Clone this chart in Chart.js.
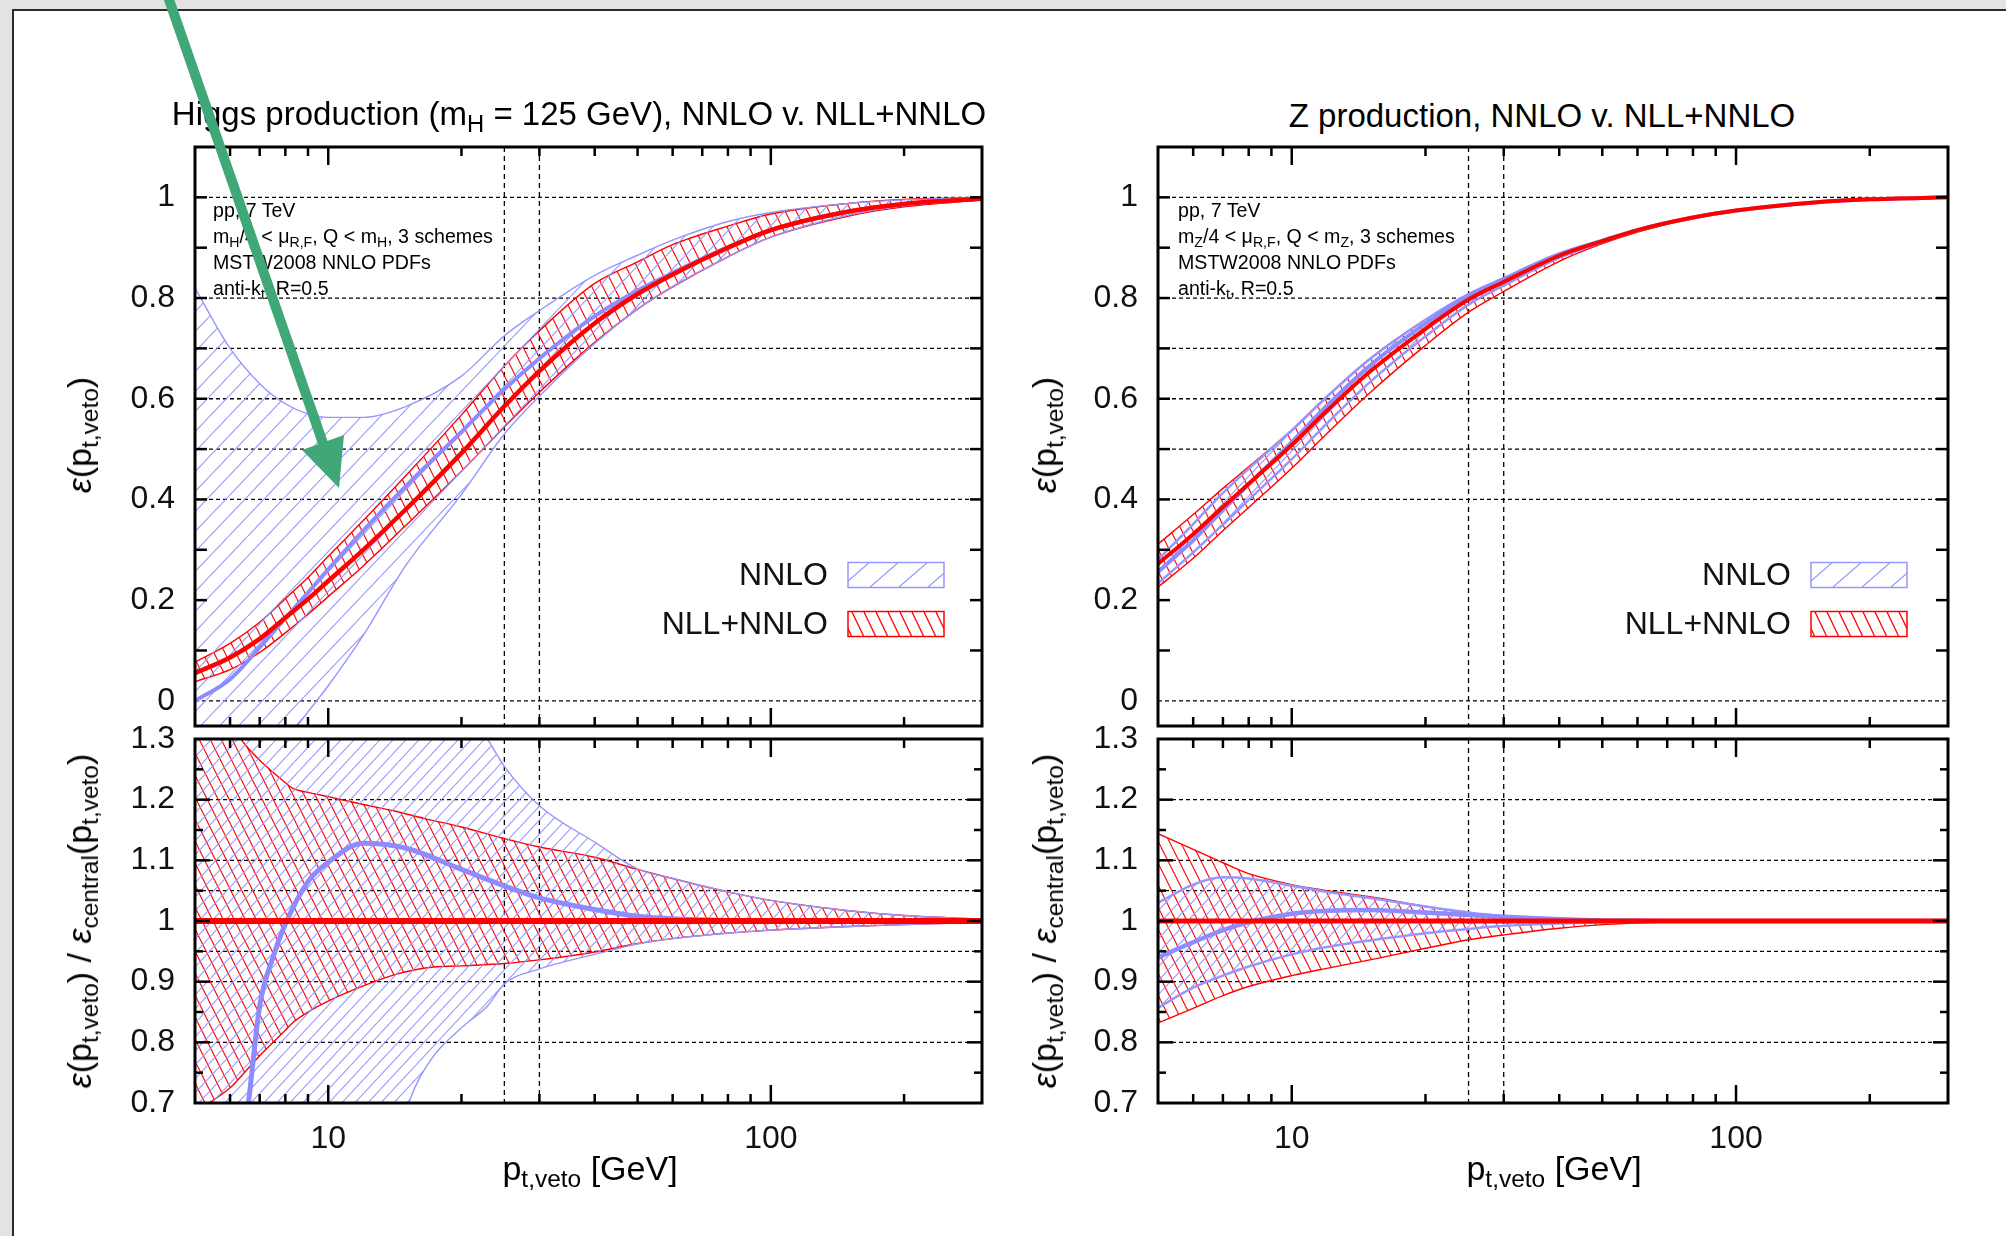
<!DOCTYPE html>
<html>
<head>
<meta charset="utf-8">
<script src="https://cdn.jsdelivr.net/npm/chart.js@4.4.1/dist/chart.umd.min.js"></script>
<style>
  body { margin: 0; width: 2006px; height: 1236px; overflow: hidden; background: #e3e3e3;
         font-family: "Liberation Sans", Arial, sans-serif; color: #000; }
  #page { position: absolute; left: 12px; top: 9px; width: 2100px; height: 1300px;
          background: #fff; border: 2px solid #2b2b2b; }
  canvas { position: absolute; }
  .t { position: absolute; white-space: nowrap; line-height: 1; transform: translate(-50%, -50%); }
  .title { font-size: 33px; }
  .ax { font-size: 34px; }
  .rot { transform: translate(-50%, -50%) rotate(-90deg); }
  .info { position: absolute; font-size: 19.6px; line-height: 26px; white-space: nowrap; }
  sub { font-size: 72%; vertical-align: -0.3em; line-height: 0; }
</style>
</head>
<body>
<div id="page"></div>

<canvas id="higgsTop" width="992" height="600" style="left:0;top:137px"></canvas>
<canvas id="higgsRatio" width="992" height="464" style="left:0;top:715px"></canvas>
<canvas id="zTop" width="995" height="600" style="left:963px;top:137px"></canvas>
<canvas id="zRatio" width="995" height="464" style="left:963px;top:715px"></canvas>

<div class="t title" style="left:579px;top:113px">Higgs production (m<sub>H</sub> = 125 GeV), NNLO v. NLL+NNLO</div>
<div class="t title" style="left:1542px;top:115px">Z production, NNLO v. NLL+NNLO</div>

<div class="info" style="left:213px;top:197px">pp, 7 TeV<br>m<sub>H</sub>/4 &lt; μ<sub>R,F</sub>, Q &lt; m<sub>H</sub>, 3 schemes<br>MSTW2008 NNLO PDFs<br>anti-k<sub>t</sub>, R=0.5</div>
<div class="info" style="left:1178px;top:197px">pp, 7 TeV<br>m<sub>Z</sub>/4 &lt; μ<sub>R,F</sub>, Q &lt; m<sub>Z</sub>, 3 schemes<br>MSTW2008 NNLO PDFs<br>anti-k<sub>t</sub>, R=0.5</div>

<div class="t ax rot" style="left:79px;top:435px"><i>ε</i>(p<sub>t,veto</sub>)</div>
<div class="t ax rot" style="left:1044px;top:435px"><i>ε</i>(p<sub>t,veto</sub>)</div>
<div class="t ax rot" style="left:79px;top:921px"><i>ε</i>(p<sub>t,veto</sub>) / <i>ε</i><sub>central</sub>(p<sub>t,veto</sub>)</div>
<div class="t ax rot" style="left:1044px;top:921px"><i>ε</i>(p<sub>t,veto</sub>) / <i>ε</i><sub>central</sub>(p<sub>t,veto</sub>)</div>

<div class="t ax" style="left:590px;top:1168px">p<sub>t,veto</sub> [GeV]</div>
<div class="t ax" style="left:1554px;top:1168px">p<sub>t,veto</sub> [GeV]</div>

<svg width="2006" height="1236" style="position:absolute;left:0;top:0">
  <line x1="165" y1="-12" x2="326" y2="452" stroke="#40a878" stroke-width="10"/>
  <polygon points="339,488 302,450 344,435" fill="#40a878"/>
</svg>

<script>
// p_t,veto values (GeV) and efficiencies

// Higgs, efficiency
const higgsX = [5, 6, 7, 8, 9, 10, 12, 15, 20, 25, 30, 40, 50, 60, 80, 100, 150, 200, 300];
const higgsNllCentral = [0.055, 0.086, 0.123, 0.165, 0.202, 0.238, 0.30, 0.381, 0.492, 0.585, 0.655, 0.75, 0.808, 0.847, 0.90, 0.935, 0.972, 0.987, 0.997];
const higgsNllLow = [0.038, 0.062, 0.096, 0.135, 0.172, 0.207, 0.268, 0.349, 0.456, 0.544, 0.613, 0.712, 0.778, 0.822, 0.882, 0.921, 0.963, 0.981, 0.995];
const higgsNllHigh = [0.077, 0.114, 0.156, 0.203, 0.245, 0.287, 0.358, 0.448, 0.568, 0.665, 0.735, 0.829, 0.872, 0.906, 0.943, 0.967, 0.988, 0.996, 1.0];
const higgsNnloCentral = [0.0, 0.043, 0.106, 0.164, 0.215, 0.261, 0.338, 0.427, 0.534, 0.619, 0.68, 0.764, 0.815, 0.85, 0.901, 0.935, 0.972, 0.987, 0.997];
const higgsNnloLow = [-0.31, -0.22, -0.145, -0.08, -0.022, 0.03, 0.13, 0.27, 0.41, 0.53, 0.605, 0.71, 0.778, 0.823, 0.882, 0.921, 0.965, 0.983, 0.997];
const higgsNnloHigh = [0.82, 0.70, 0.63, 0.59, 0.57, 0.563, 0.563, 0.585, 0.645, 0.725, 0.775, 0.845, 0.885, 0.915, 0.952, 0.97, 0.988, 0.995, 1.0];

// Higgs, ratio to central NLL+NNLO
const higgsRatioNllX = [5, 6, 6.5, 7, 8, 8.3, 9, 10, 12, 14.2, 16.7, 20, 25, 30, 40, 50, 60, 80, 100, 150, 200, 300];
const higgsRatioNllHigh = [1.40, 1.325, 1.29, 1.265, 1.228, 1.219, 1.212, 1.205, 1.192, 1.181, 1.168, 1.155, 1.136, 1.122, 1.105, 1.085, 1.07, 1.048, 1.034, 1.017, 1.009, 1.003];
const higgsRatioNllLow = [0.685, 0.725, 0.752, 0.778, 0.82, 0.832, 0.85, 0.868, 0.893, 0.912, 0.923, 0.926, 0.93, 0.936, 0.949, 0.963, 0.971, 0.98, 0.985, 0.991, 0.994, 0.998];
const higgsRatioNnloX = [5, 10, 15.2, 17, 20, 22.9, 25, 30, 40, 50, 60, 80, 100, 150, 200, 300];
const higgsRatioNnloHigh = [2.2, 1.8, 1.55, 1.46, 1.36, 1.3, 1.255, 1.19, 1.13, 1.086, 1.07, 1.048, 1.034, 1.017, 1.009, 1.003];
const higgsRatioNnloLow = [-0.5, 0.2, 0.70, 0.77, 0.824, 0.86, 0.896, 0.921, 0.945, 0.962, 0.971, 0.98, 0.985, 0.991, 0.994, 0.998];
const higgsRatioCentralX = [5, 6, 6.6, 7, 7.5, 8, 9, 10, 12, 15, 20, 25, 30, 40, 50, 70, 100, 300];
const higgsRatioNnloCentral = [0.0, 0.5, 0.70, 0.86, 0.94, 0.995, 1.065, 1.097, 1.128, 1.12, 1.085, 1.058, 1.038, 1.019, 1.008, 1.002, 1.0, 1.0];

// Z, efficiency
const zX = [5, 6, 7, 8, 10, 12, 15, 20, 25, 30, 40, 50, 60, 80, 100, 150, 200, 300];
const zNllCentral = [0.272, 0.331, 0.385, 0.431, 0.508, 0.576, 0.654, 0.739, 0.797, 0.832, 0.884, 0.913, 0.935, 0.96, 0.974, 0.99, 0.996, 1.0];
const zNllLow = [0.226, 0.283, 0.338, 0.384, 0.462, 0.531, 0.612, 0.706, 0.772, 0.813, 0.873, 0.908, 0.931, 0.959, 0.974, 0.99, 0.996, 1.0];
const zNllHigh = [0.311, 0.37, 0.422, 0.465, 0.538, 0.605, 0.68, 0.757, 0.807, 0.838, 0.887, 0.914, 0.935, 0.96, 0.974, 0.99, 0.996, 1.0];
const zNnloCentral = [0.256, 0.319, 0.379, 0.43, 0.514, 0.586, 0.666, 0.749, 0.805, 0.838, 0.887, 0.914, 0.935, 0.96, 0.974, 0.99, 0.996, 1.0];
const zNnloLow = [0.233, 0.295, 0.35, 0.399, 0.48, 0.551, 0.633, 0.724, 0.787, 0.825, 0.88, 0.911, 0.934, 0.96, 0.974, 0.99, 0.996, 1.0];
const zNnloHigh = [0.28, 0.351, 0.413, 0.461, 0.537, 0.604, 0.679, 0.757, 0.808, 0.839, 0.887, 0.914, 0.935, 0.96, 0.974, 0.99, 0.996, 1.0];

// Z, ratio
const zRatioX = [5, 6, 7, 8, 10, 12, 15, 20, 25, 30, 40, 50, 70, 100, 300];
const zRatioNllHigh = [1.144, 1.118, 1.096, 1.078, 1.06, 1.05, 1.04, 1.024, 1.013, 1.007, 1.003, 1.001, 1.0, 1.0, 1.0];
const zRatioNllLow = [0.832, 0.856, 0.877, 0.892, 0.91, 0.922, 0.936, 0.955, 0.969, 0.977, 0.988, 0.994, 0.998, 1.0, 1.0];
const zRatioNnloHigh = [1.03, 1.06, 1.072, 1.07, 1.058, 1.048, 1.038, 1.024, 1.014, 1.008, 1.003, 1.001, 1.0, 1.0, 1.0];
const zRatioNnloLow = [0.857, 0.89, 0.91, 0.925, 0.945, 0.957, 0.968, 0.98, 0.987, 0.992, 0.996, 0.998, 1.0, 1.0, 1.0];
const zRatioNnloCentral = [0.94, 0.965, 0.985, 0.998, 1.012, 1.017, 1.018, 1.014, 1.01, 1.007, 1.003, 1.001, 1.0, 1.0, 1.0];

const ratioOneX = [5, 300];
const ratioOne = [1, 1];

// axes
const xLabelValues = [10, 100];
const xMajorMarks = [10, 100];
const xMinorMarks = [6, 7, 8, 9, 20, 30, 40, 50, 60, 70, 80, 90, 200];
const vetoLines = [25, 30];

const effTicks = [0, 0.2, 0.4, 0.6, 0.8, 1];
const effTickLabels = ['0', '0.2', '0.4', '0.6', '0.8', '1'];
const effMarks = [0.1, 0.2, 0.3, 0.4, 0.5, 0.6, 0.7, 0.8, 0.9, 1];
const effGrid = [0, 0.4, 0.5, 0.6, 0.7, 0.8, 1];

const ratioTicks = [0.7, 0.8, 0.9, 1, 1.1, 1.2, 1.3];
const ratioTickLabels = ['0.7', '0.8', '0.9', '1', '1.1', '1.2', '1.3'];
const ratioMarks = [0.8, 0.9, 1, 1.1, 1.2];
const ratioMinorMarks = [0.75, 0.85, 0.95, 1.05, 1.15, 1.25];
const ratioGrid = [0.8, 0.9, 0.95, 1, 1.05, 1.1, 1.2];

const BLUE = 'rgb(150,150,255)';
const BLUE_THICK = 'rgb(140,140,255)';
const RED = '#ff0000';
const FONT = '"Liberation Sans", Arial, sans-serif';

Chart.defaults.font.family = FONT;
Chart.defaults.color = '#000';

function hatch(color, w, h, forward, lw) {
  const c = document.createElement('canvas');
  c.width = w; c.height = h;
  const g = c.getContext('2d');
  g.strokeStyle = color;
  g.lineWidth = lw;
  for (let k = -1; k <= 1; k++) {
    g.beginPath();
    if (forward) { g.moveTo(k * w, h); g.lineTo((k + 1) * w, 0); }
    else { g.moveTo(k * w, 0); g.lineTo((k + 1) * w, h); }
    g.stroke();
  }
  return g.createPattern(c, 'repeat');
}

const blueHatchTop = hatch(BLUE, 19, 20, true, 1.1);
const blueHatch = hatch(BLUE, 13, 14, true, 1.1);
const redHatch = hatch(RED, 11, 22, false, 1.1);
const blueHatchKey = hatch(BLUE, 29, 25, true, 1.3);
const redHatchKey = hatch(RED, 12, 25, false, 1.3);

const pts = (xs, ys) => xs.map((x, i) => ({ x: x, y: ys[i] }));

function curve(xs, ys, color, width, order, pattern) {
  return {
    data: pts(xs, ys),
    borderColor: color,
    borderWidth: width,
    backgroundColor: pattern || 'transparent',
    fill: pattern ? '-1' : false,
    pointRadius: 0,
    cubicInterpolationMode: 'monotone',
    order: order,
    clip: 0
  };
}

function framePlugin(spec) {
  return {
    id: 'frame',
    beforeDatasetsDraw(chart) {
      const { ctx, chartArea: a, scales: { x, y } } = chart;
      ctx.save();
      ctx.strokeStyle = '#000';
      ctx.lineWidth = 1.3;
      ctx.setLineDash([4, 3]);
      spec.grid.forEach(v => {
        const py = y.getPixelForValue(v);
        ctx.beginPath(); ctx.moveTo(a.left, py); ctx.lineTo(a.right, py); ctx.stroke();
      });
      ctx.setLineDash([5, 4]);
      vetoLines.forEach(v => {
        const px = x.getPixelForValue(v);
        ctx.beginPath(); ctx.moveTo(px, a.top); ctx.lineTo(px, a.bottom); ctx.stroke();
      });
      ctx.restore();
    },
    afterDatasetsDraw(chart) {
      const { ctx, chartArea: a, scales: { x, y } } = chart;
      ctx.save();
      ctx.strokeStyle = '#000';
      ctx.lineWidth = 2.5;
      const seg = (x1, y1, x2, y2) => { ctx.beginPath(); ctx.moveTo(x1, y1); ctx.lineTo(x2, y2); ctx.stroke(); };
      const xMarks = (vals, len) => vals.forEach(v => {
        const px = x.getPixelForValue(v);
        seg(px, a.bottom, px, a.bottom - len);
        seg(px, a.top, px, a.top + len);
      });
      const yMarks = (vals, len) => vals.forEach(v => {
        const py = y.getPixelForValue(v);
        seg(a.left, py, a.left + len, py);
        seg(a.right, py, a.right - len, py);
      });
      xMarks(xMajorMarks, 18);
      xMarks(xMinorMarks, 9);
      yMarks(spec.marks, spec.markLen);
      if (spec.minorMarks) yMarks(spec.minorMarks, 8);
      ctx.lineWidth = 3;
      ctx.strokeRect(a.left, a.top, a.right - a.left, a.bottom - a.top);

      if (spec.legend) {
        const rows = [
          { label: 'NNLO', color: BLUE, pattern: blueHatchKey, dy: 151 },
          { label: 'NLL+NNLO', color: RED, pattern: redHatchKey, dy: 102 }
        ];
        ctx.font = '32px ' + FONT;
        ctx.textAlign = 'right';
        ctx.textBaseline = 'middle';
        rows.forEach(r => {
          const bx = a.right - spec.legendRight - 96;
          const cy = a.bottom - r.dy;
          ctx.fillStyle = r.pattern;
          ctx.fillRect(bx, cy - 12.5, 96, 25);
          ctx.strokeStyle = r.color;
          ctx.lineWidth = 1.5;
          ctx.strokeRect(bx, cy - 12.5, 96, 25);
          ctx.fillStyle = '#111';
          ctx.fillText(r.label, bx - 20, cy + 1);
        });
      }
      ctx.restore();
    }
  };
}

function makePanel(id, spec) {
  const canvas = document.getElementById(id);
  const pad = { left: 0, top: 10, right: 10, bottom: spec.xLabels ? 0 : 10 };
  const chart = new Chart(canvas, {
    type: 'line',
    data: { datasets: spec.datasets },
    plugins: [framePlugin(spec)],
    options: {
      responsive: false,
      animation: false,
      events: [],
      layout: { padding: Object.assign({}, pad), autoPadding: false },
      plugins: { legend: { display: false }, tooltip: { enabled: false } },
      scales: {
        x: {
          type: 'logarithmic', min: 5, max: 300,
          display: spec.xLabels,
          grid: { display: false, drawTicks: false },
          border: { display: false },
          ticks: { font: { size: 32 }, color: '#111', padding: 17, maxRotation: 0, minRotation: 0,
                   autoSkip: false, callback: v => String(v) },
          afterBuildTicks: s => { s.ticks = xLabelValues.map(v => ({ value: v })); },
          afterFit: s => {
            if (spec.xLabels) s.height = 76;
            s.paddingLeft = 0; s.paddingRight = 0;
          }
        },
        y: {
          type: 'linear', min: spec.yMin, max: spec.yMax,
          grid: { display: false, drawTicks: false },
          border: { display: false },
          ticks: { font: { size: 32 }, color: '#111', padding: 20,
                   callback: (v, i) => spec.tickLabels[i] },
          afterBuildTicks: s => { s.ticks = spec.ticks.map(v => ({ value: v })); },
          afterFit: s => { s.width = 195; s.paddingTop = 0; s.paddingBottom = 0; }
        }
      }
    }
  });

  // nudge the padding until the plot frame sits where the reference has it
  const left0 = parseFloat(canvas.style.left), top0 = parseFloat(canvas.style.top);
  const t = spec.frame;
  for (let k = 0; k < 3; k++) {
    const a = chart.chartArea;
    pad.top += t.top - (top0 + a.top);
    pad.bottom += (top0 + a.bottom) - t.bottom;
    pad.right += (left0 + a.right) - t.right;
    pad.left += t.left - (left0 + a.left);
    chart.options.layout.padding = Object.assign({}, pad);
    chart.update();
  }
  return chart;
}

makePanel('higgsTop', {
  frame: { left: 195, top: 147, right: 982, bottom: 726 },
  xLabels: false, yMin: -0.05, yMax: 1.1,
  ticks: effTicks, tickLabels: effTickLabels, marks: effMarks, markLen: 12, grid: effGrid,
  legend: true, legendRight: 38,
  datasets: [
    curve(higgsX, higgsNllLow, RED, 1.4, 4),
    curve(higgsX, higgsNllHigh, RED, 1.4, 4, redHatch),
    curve(higgsX, higgsNnloLow, BLUE, 1.4, 3),
    curve(higgsX, higgsNnloHigh, BLUE, 1.4, 3, blueHatchTop),
    curve(higgsX, higgsNnloCentral, BLUE_THICK, 4, 2),
    curve(higgsX, higgsNllCentral, RED, 4.5, 1)
  ]
});

makePanel('higgsRatio', {
  frame: { left: 195, top: 739, right: 982, bottom: 1103 },
  xLabels: true, yMin: 0.7, yMax: 1.3,
  ticks: ratioTicks, tickLabels: ratioTickLabels, marks: ratioMarks, markLen: 15,
  minorMarks: ratioMinorMarks, grid: ratioGrid, legend: false,
  datasets: [
    curve(higgsRatioNllX, higgsRatioNllLow, RED, 1.4, 4),
    curve(higgsRatioNllX, higgsRatioNllHigh, RED, 1.4, 4, redHatch),
    curve(higgsRatioNnloX, higgsRatioNnloLow, BLUE, 1.4, 3),
    curve(higgsRatioNnloX, higgsRatioNnloHigh, BLUE, 1.4, 3, blueHatch),
    curve(higgsRatioCentralX, higgsRatioNnloCentral, BLUE_THICK, 5, 2),
    curve(ratioOneX, ratioOne, RED, 6, 1)
  ]
});

makePanel('zTop', {
  frame: { left: 1158, top: 147, right: 1948, bottom: 726 },
  xLabels: false, yMin: -0.05, yMax: 1.1,
  ticks: effTicks, tickLabels: effTickLabels, marks: effMarks, markLen: 12, grid: effGrid,
  legend: true, legendRight: 41,
  datasets: [
    curve(zX, zNllLow, RED, 1.4, 4),
    curve(zX, zNllHigh, RED, 1.4, 4, redHatch),
    curve(zX, zNnloLow, BLUE, 2.5, 3),
    curve(zX, zNnloHigh, BLUE, 2.5, 3, blueHatchTop),
    curve(zX, zNnloCentral, BLUE_THICK, 4, 2),
    curve(zX, zNllCentral, RED, 4, 1)
  ]
});

makePanel('zRatio', {
  frame: { left: 1158, top: 739, right: 1948, bottom: 1103 },
  xLabels: true, yMin: 0.7, yMax: 1.3,
  ticks: ratioTicks, tickLabels: ratioTickLabels, marks: ratioMarks, markLen: 15,
  minorMarks: ratioMinorMarks, grid: ratioGrid, legend: false,
  datasets: [
    curve(zRatioX, zRatioNllLow, RED, 1.4, 4),
    curve(zRatioX, zRatioNllHigh, RED, 1.4, 4, redHatch),
    curve(zRatioX, zRatioNnloLow, BLUE, 2.5, 3),
    curve(zRatioX, zRatioNnloHigh, BLUE, 2.5, 3, blueHatch),
    curve(zRatioX, zRatioNnloCentral, BLUE_THICK, 4.5, 2),
    curve(ratioOneX, ratioOne, RED, 5, 1)
  ]
});
</script>
</body>
</html>
